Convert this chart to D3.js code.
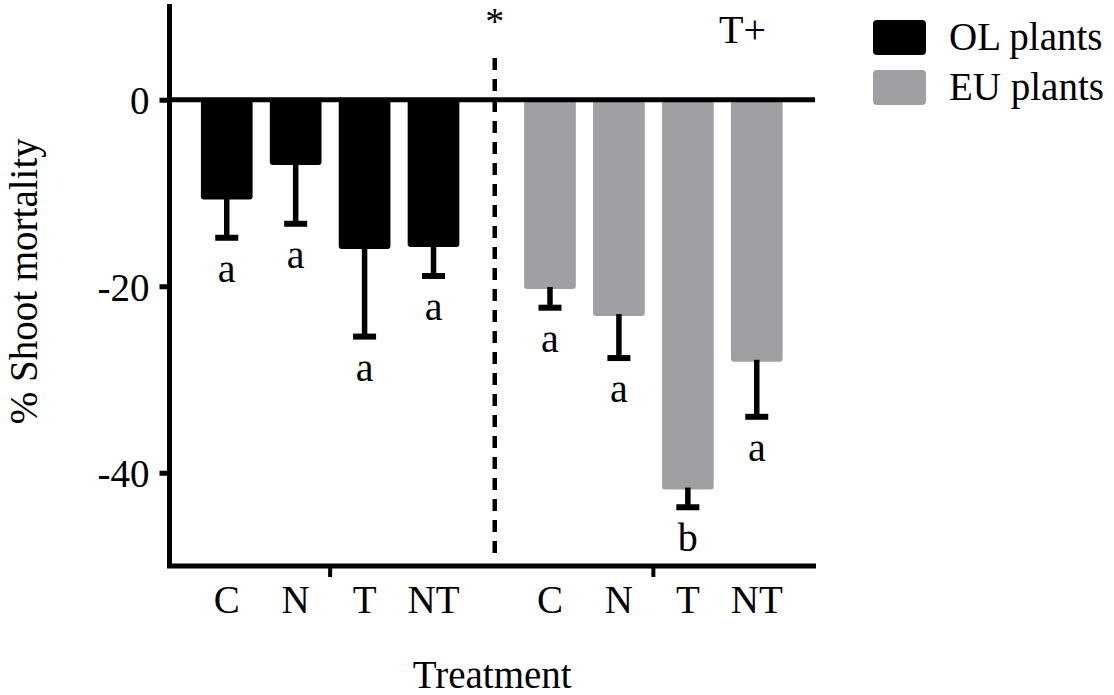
<!DOCTYPE html>
<html>
<head>
<meta charset="utf-8">
<script src="https://cdn.jsdelivr.net/npm/d3@7/dist/d3.min.js"></script>
<style>
  body { margin: 0; background: #fff; }
  text { font-family: "Liberation Serif", "Times New Roman", serif; fill: #000; }
</style>
</head>
<body>
<script>
// data
var groups = ["OL", "EU"];
var treatments = ["C", "N", "T", "NT"];
var olMeans = [-10.7, -7.0, -16.0, -15.8];
var olErrors = [4.1, 6.3, 9.4, 3.1];
var olLetters = ["a", "a", "a", "a"];
var euMeans = [-20.3, -23.2, -41.8, -28.1];
var euErrors = [2.0, 4.5, 1.9, 5.9];
var euLetters = ["a", "a", "b", "a"];
var legendLabels = ["OL plants", "EU plants"];
var yTicks = [0, -20, -40];

var colors = {OL: "#000000", EU: "#a0a0a4"};

var width = 1114, height = 695;
var svg = d3.select("body").append("svg").attr("width", width).attr("height", height);

// build rows for drawing
var rows = [];
treatments.forEach(function(t, i) {
  rows.push({group: "OL", t: t, mean: olMeans[i], err: olErrors[i], letter: olLetters[i]});
});
treatments.forEach(function(t, i) {
  rows.push({group: "EU", t: t, mean: euMeans[i], err: euErrors[i], letter: euLetters[i]});
});

//scales
var yScale = d3.scaleLinear().domain([-50, 10]).range([566, 6.5]);
var outer = d3.scaleBand().domain(groups).range([168.5, 815]);
var inner = d3.scaleBand().domain(treatments).range([0, outer.bandwidth()])
  .paddingInner(0.25).paddingOuter(0.47);

function barX(d) { return outer(d.group) + inner(d.t); }
function barMid(d) { return barX(d) + inner.bandwidth() / 2; }

var axisX = 169.5;
var lw = 5;

// bars
svg.append("g").selectAll("rect")
  .data(rows).enter().append("rect")
  .attr("x", barX)
  .attr("y", yScale(0))
  .attr("width", inner.bandwidth())
  .attr("height", function(d) { return yScale(d.mean) - yScale(0); })
  .attr("rx", 3)
  .attr("fill", function(d) { return colors[d.group]; });

// error bars (downward only)
var errG = svg.append("g");
errG.selectAll("line.stem").data(rows).enter().append("line")
  .attr("class", "stem")
  .attr("x1", barMid).attr("x2", barMid)
  .attr("y1", function(d) { return yScale(d.mean) - 2; })
  .attr("y2", function(d) { return yScale(d.mean - d.err); })
  .attr("stroke", "#000").attr("stroke-width", 5.5);
errG.selectAll("line.cap").data(rows).enter().append("line")
  .attr("class", "cap")
  .attr("x1", function(d) { return barMid(d) - 11.5; })
  .attr("x2", function(d) { return barMid(d) + 11.5; })
  .attr("y1", function(d) { return yScale(d.mean - d.err); })
  .attr("y2", function(d) { return yScale(d.mean - d.err); })
  .attr("stroke", "#000").attr("stroke-width", 6);

// significance letters
svg.append("g").selectAll("text").data(rows).enter().append("text")
  .attr("x", barMid)
  .attr("y", function(d) { return yScale(d.mean - d.err) + 44; })
  .attr("text-anchor", "middle")
  .attr("font-size", "40px")
  .text(function(d) { return d.letter; });

// zero line
svg.append("line")
  .attr("x1", axisX).attr("x2", 815)
  .attr("y1", yScale(0)).attr("y2", yScale(0))
  .attr("stroke", "#000").attr("stroke-width", lw);

// dashed divider between the plant groups
var divX = (outer("OL") + outer.bandwidth() + outer("EU")) / 2 + 3;
svg.append("line")
  .attr("x1", divX).attr("x2", divX)
  .attr("y1", 58).attr("y2", 561)
  .attr("stroke", "#000").attr("stroke-width", 4.5)
  .attr("stroke-dasharray", "12,9");
svg.append("text")
  .attr("x", divX).attr("y", 34)
  .attr("text-anchor", "middle")
  .attr("font-size", "38px")
  .text("*");

// y axis (hyphen as minus, like the original)
var yAxis = d3.axisLeft(yScale).tickValues(yTicks).tickSize(10).tickSizeOuter(0).tickPadding(10)
  .tickFormat(function(d) { return String(d); });
var yG = svg.append("g").attr("transform", "translate(" + axisX + ",0)").call(yAxis);
yG.select(".domain").remove();
yG.selectAll(".tick line").attr("stroke-width", lw);
yG.selectAll(".tick text").attr("font-size", "39px")
  .attr("font-family", "Liberation Serif, Times New Roman, serif")
  .attr("dy", "0.36em");
svg.append("line")
  .attr("x1", axisX).attr("x2", axisX)
  .attr("y1", 4).attr("y2", 568)
  .attr("stroke", "#000").attr("stroke-width", lw);

// x axis, ticks at group centres
var xAxis = d3.axisBottom(outer).tickSize(11).tickSizeOuter(0).tickFormat("");
var xG = svg.append("g").attr("transform", "translate(0," + yScale(-50) + ")").call(xAxis);
xG.select(".domain").remove();
xG.selectAll(".tick line").attr("stroke-width", 4);
svg.append("line")
  .attr("x1", axisX - lw / 2).attr("x2", 816)
  .attr("y1", yScale(-50)).attr("y2", yScale(-50))
  .attr("stroke", "#000").attr("stroke-width", lw);

// treatment labels under each bar
svg.append("g").selectAll("text").data(rows).enter().append("text")
  .attr("x", barMid)
  .attr("y", yScale(-50) + 47)
  .attr("text-anchor", "middle")
  .attr("font-size", "39px")
  .text(function(d) { return d.t; });

// axis titles
svg.append("text")
  .attr("x", (axisX + 815) / 2).attr("y", 688)
  .attr("text-anchor", "middle")
  .attr("font-size", "39px")
  .text("Treatment");
svg.append("text")
  .attr("transform", "translate(37," + ((yScale(10) + yScale(-50)) / 2 - 5) + ") rotate(-90)")
  .attr("text-anchor", "middle")
  .attr("font-size", "39px")
  .text("% Shoot mortality");

// T+ label
svg.append("text")
  .attr("x", 719).attr("y", 43)
  .attr("font-size", "40px")
  .text("T+");

// legend
var legend = svg.append("g").selectAll("g").data(groups).enter().append("g")
  .attr("transform", function(d, i) { return "translate(873," + (20 + i * 50) + ")"; });
legend.append("rect")
  .attr("width", 53).attr("height", 35).attr("rx", 4)
  .attr("fill", function(d) { return colors[d]; });
legend.append("text")
  .attr("x", 76).attr("y", 29.5)
  .attr("font-size", "39px")
  .text(function(d, i) { return legendLabels[i]; });
</script>
</body>
</html>
